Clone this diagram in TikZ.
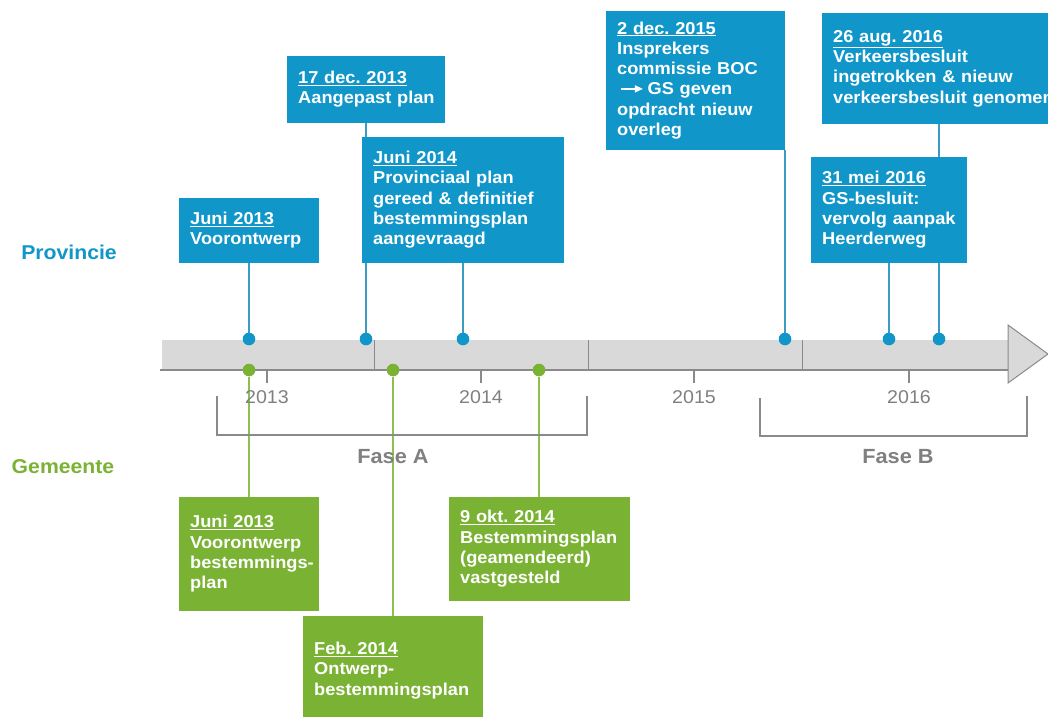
\documentclass[tikz,border=0pt]{standalone}
\usepackage{fontspec}
\setmainfont[FakeStretch=1.06]{Liberation Sans}
\usepackage{tikz}
\usetikzlibrary{arrows.meta}
\frenchspacing

\definecolor{provblue}{RGB}{16,150,200}
\definecolor{provline}{RGB}{60,155,195}
\definecolor{gemgreen}{RGB}{122,178,52}
\definecolor{gemline}{RGB}{140,192,80}
\definecolor{barfill}{RGB}{217,217,217}
\definecolor{barline}{RGB}{138,138,138}
\definecolor{greytext}{RGB}{128,128,128}

\newcommand{\boxfont}{\bfseries\fontsize{17.2}{20.3}\selectfont}

\pgfdeclarelayer{background}
\pgfsetlayers{background,main}

\begin{document}
\begin{tikzpicture}[x=1pt,y=-1pt,
  event/.style={anchor=north west, text=white, font=\boxfont, align=left,
    inner xsep=11pt, inner ysep=0pt},
  pbox/.style={event, fill=provblue},
  gbox/.style={event, fill=gemgreen},
  pdot/.style={circle, fill=provblue, inner sep=0pt, minimum size=12.6pt},
  gdot/.style={circle, fill=gemgreen, inner sep=0pt, minimum size=12.6pt},
  plink/.style={provline, line width=1.2pt},
  glink/.style={gemline, line width=1.2pt},
  bracket/.style={barline, line width=2pt},
  year/.style={text=greytext, font=\fontsize{18.5}{22}\selectfont},
  fasetext/.style={text=greytext, font=\bfseries\fontsize{20.5}{24}\selectfont}]
\useasboundingbox (0,0) rectangle (1048,716);
\clip (0,0) rectangle (1048,716);

% side labels
\node[text=provblue, font=\bfseries\fontsize{20}{24}\selectfont] (prov) at (69,252) {Provincie};
\node[text=gemgreen, font=\bfseries\fontsize{20}{24}\selectfont] (gem) at (63,467) {Gemeente};

% timeline bar
\fill[barfill] (162,340) rectangle (1008,370);
\draw[barline, line width=2pt] (160,370) -- (1008,370);
\filldraw[fill=barfill, draw=barline, line width=1pt] (1008,325) -- (1048,354) -- (1008,383) -- cycle;
\foreach \x in {374,588,802}
  \draw[barline, line width=1pt] (\x,340) -- (\x,370);
\foreach \x/\yr in {267/2013,481/2014,694/2015,909/2016} {
  \draw[barline, line width=2pt] (\x,370) -- (\x,383);
  \node[year] (y\yr) at (\x,397) {\yr};
}

% phases
\draw[bracket] (217,396) -- (217,435) -- (587,435) -- (587,396);
\node[fasetext] (faseA) at (393,457) {Fase A};
\draw[bracket] (760,398) -- (760,436) -- (1027,436) -- (1027,396);
\node[fasetext] (faseB) at (898,457) {Fase B};

% dots
\node[pdot] (pd1) at (249,339) {};
\node[pdot] (pd2) at (366,339) {};
\node[pdot] (pd3) at (463,339) {};
\node[pdot] (pd4) at (785,339) {};
\node[pdot] (pd5) at (939,339) {};
\node[pdot] (pd6) at (889,339) {};
\node[gdot] (gd1) at (249,370) {};
\node[gdot] (gd2) at (393,370) {};
\node[gdot] (gd3) at (539,370) {};

% provincie
\node[pbox, minimum width=140, minimum height=65, text width=118] (pb1) at (179,198)
  {\begin{tabular}{@{}l@{}}\underline{Juni 2013}\\ Voorontwerp\end{tabular}};
\node[pbox, minimum width=158, minimum height=67, text width=136] (pb2) at (287,56)
  {\begin{tabular}{@{}l@{}}\underline{17 dec. 2013}\\ Aangepast plan\end{tabular}};
\node[pbox, minimum width=202, minimum height=126, text width=180] (pb3) at (362,137)
  {\begin{tabular}{@{}l@{}}\underline{Juni 2014}\\ Provinciaal plan\\ gereed \& definitief\\ bestemmingsplan\\ aangevraagd\end{tabular}};
\node[pbox, minimum width=179, minimum height=139, text width=157] (pb4) at (606,11)
  {\begin{tabular}{@{}l@{}}\underline{2 dec. 2015}\\ Insprekers\\ commissie BOC\\
   \hspace{3pt}\tikz[baseline=-6pt]\draw[white, line width=1.4pt, -{Triangle[length=8pt,width=7pt]}] (0,0) -- (22pt,0);\hspace{4pt}GS geven\\ opdracht nieuw\\ overleg\end{tabular}};
\node[pbox, minimum width=234, minimum height=111, text width=212] (pb5) at (822,13)
  {\begin{tabular}{@{}l@{}}\underline{26 aug. 2016}\\ Verkeersbesluit\\ ingetrokken \& nieuw\\ verkeersbesluit genomen\end{tabular}};
\node[pbox, minimum width=156, minimum height=106, text width=134] (pb6) at (811,157)
  {\begin{tabular}{@{}l@{}}\underline{31 mei 2016}\\ GS-besluit:\\ vervolg aanpak\\ Heerderweg\end{tabular}};

% gemeente
\node[gbox, minimum width=140, minimum height=114, text width=118] (gb1) at (179,497)
  {\begin{tabular}{@{}l@{}}\underline{Juni 2013}\\ Voorontwerp\\ bestemmings-\\ plan\end{tabular}};
\node[gbox, minimum width=180, minimum height=109, text width=158] (gb2) at (303,616)
  {\begin{tabular}{@{}l@{}}\underline{Feb. 2014}\\ Ontwerp-\\ bestemmingsplan\end{tabular}};
\node[gbox, minimum width=181, minimum height=104, text width=159] (gb3) at (449,497)
  {\begin{tabular}{@{}l@{}}\underline{9 okt. 2014}\\ Bestemmingsplan\\ (geamendeerd)\\ vastgesteld\end{tabular}};

% connectors
\begin{pgfonlayer}{background}
\foreach \i in {1,...,6}
  \draw[plink] (pd\i) -- (pd\i |- pb\i.south);
\foreach \i in {1,2,3}
  \draw[glink] (gd\i) -- (gd\i |- gb\i.north);
\end{pgfonlayer}
\end{tikzpicture}
\end{document}
